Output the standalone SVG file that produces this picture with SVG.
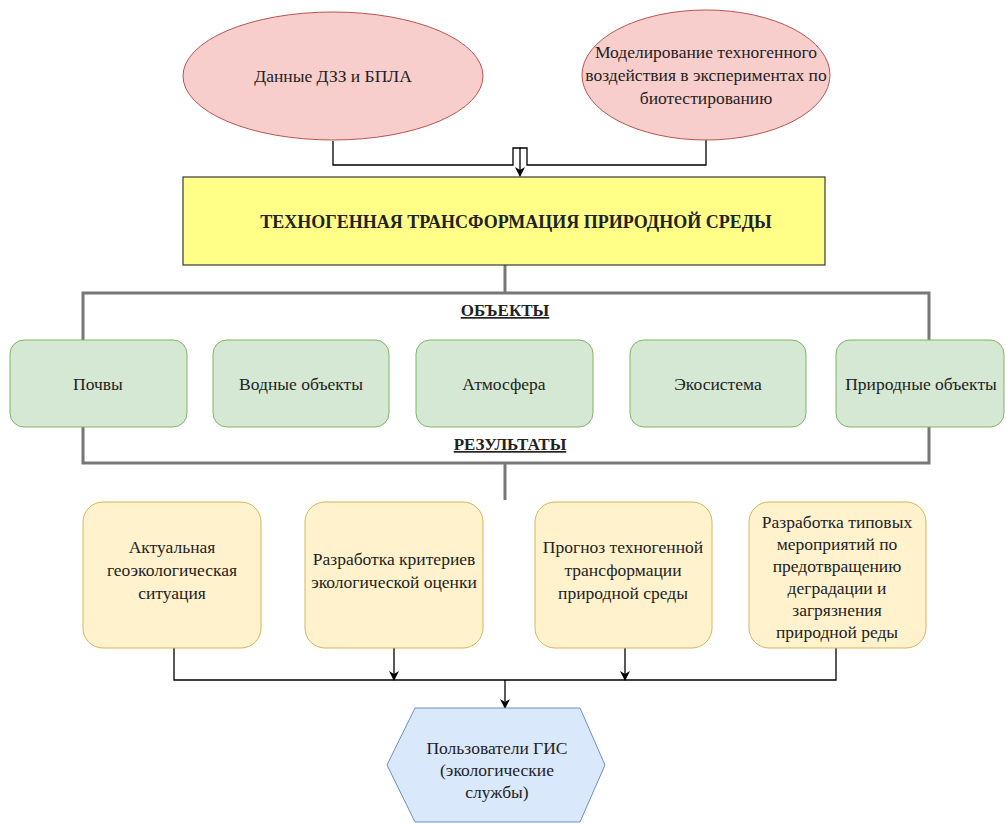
<svg xmlns="http://www.w3.org/2000/svg" width="1006" height="825" viewBox="0 0 1006 825">
  <defs>
    <marker id="arr" viewBox="0 0 10 10" refX="9" refY="5" markerWidth="10" markerHeight="10" markerUnits="userSpaceOnUse" orient="auto">
      <path d="M0,0 L10,5 L0,10 L3,5 Z" fill="#000"/>
    </marker>
  </defs>
  <style>
    .src { fill: #f8cecc; stroke: #b85450; stroke-width: 1; }
    .main { fill: #ffff88; stroke: #36393d; stroke-width: 1.2; }
    .obj { fill: #d5e8d4; stroke: #82b366; stroke-width: 1; }
    .res { fill: #fff2cc; stroke: #d6b656; stroke-width: 1; }
    .user { fill: #dae8fc; stroke: #6c8ebf; stroke-width: 1; }
    .edge { fill: none; stroke: #000; stroke-width: 1.3; }
    .frame { fill: none; stroke: #777; stroke-width: 3; }
    .t { font-family: 'Liberation Serif', 'Times New Roman', serif; fill: #222; text-anchor: middle; font-size: 17.5px; }
    .b { font-weight: bold; }
    .u { text-decoration: underline; }
  </style>
  <rect width="1006" height="825" fill="#fff"/>

  <!-- connectors -->
  <g id="connectors">
    <path class="edge" d="M333,141 V165 H513 V148 H520 V176" marker-end="url(#arr)"/>
    <path class="edge" d="M706,140 V165 H527 V148 H520"/>
    <path class="frame" d="M505,265 V293"/>
    <rect class="frame" x="83" y="293" width="846" height="170"/>
    <path class="frame" d="M505,463 V500"/>
    <path class="edge" d="M174,648 V680 H505"/>
    <path class="edge" d="M836,648 V680 H505"/>
    <path class="edge" d="M394,648 V680" marker-end="url(#arr)"/>
    <path class="edge" d="M625,648 V680" marker-end="url(#arr)"/>
    <path class="edge" d="M505,680 V708" marker-end="url(#arr)"/>
  </g>

  <g id="src-dzz">
    <ellipse class="src" cx="333" cy="76" rx="150" ry="64"/>
    <text class="t" x="333" y="82">Данные ДЗЗ и БПЛА</text>
  </g>
  <g id="src-model">
    <ellipse class="src" cx="706" cy="75" rx="124" ry="65"/>
    <text class="t" x="706" y="58">Моделирование техногенного</text>
    <text class="t" x="706" y="81">воздействия в экспериментах по</text>
    <text class="t" x="706" y="104">биотестированию</text>
  </g>

  <g id="main">
    <rect class="main" x="183" y="177" width="642" height="88"/>
    <text class="t b" x="516" y="228" style="font-size:18px">ТЕХНОГЕННАЯ ТРАНСФОРМАЦИЯ ПРИРОДНОЙ СРЕДЫ</text>
  </g>

  <text class="t b u" x="505" y="316" style="font-size:17px">ОБЪЕКТЫ</text>
  <text class="t b u" x="510" y="450" style="font-size:17px">РЕЗУЛЬТАТЫ</text>

  <g id="obj-soil">
    <rect class="obj" x="10" y="340" width="177" height="87" rx="14"/>
    <text class="t" x="98" y="390">Почвы</text>
  </g>
  <g id="obj-water">
    <rect class="obj" x="213" y="340" width="176" height="87" rx="14"/>
    <text class="t" x="301" y="390">Водные объекты</text>
  </g>
  <g id="obj-air">
    <rect class="obj" x="416" y="340" width="177" height="87" rx="14"/>
    <text class="t" x="504" y="390">Атмосфера</text>
  </g>
  <g id="obj-eco">
    <rect class="obj" x="630" y="340" width="176" height="87" rx="14"/>
    <text class="t" x="718" y="390">Экосистема</text>
  </g>
  <g id="obj-nature">
    <rect class="obj" x="836" y="340" width="168" height="87" rx="14"/>
    <text class="t" x="921" y="390">Природные объекты</text>
  </g>

  <g id="res-actual">
    <rect class="res" x="83" y="502" width="178" height="146" rx="20"/>
    <text class="t" x="172" y="553">Актуальная</text>
    <text class="t" x="172" y="576">геоэкологическая</text>
    <text class="t" x="172" y="599">ситуация</text>
  </g>
  <g id="res-criteria">
    <rect class="res" x="305" y="502" width="178" height="146" rx="20"/>
    <text class="t" x="394" y="565">Разработка критериев</text>
    <text class="t" x="394" y="588">экологической оценки</text>
  </g>
  <g id="res-forecast">
    <rect class="res" x="535" y="502" width="177" height="146" rx="20"/>
    <text class="t" x="623" y="553">Прогноз техногенной</text>
    <text class="t" x="623" y="576">трансформации</text>
    <text class="t" x="623" y="599">природной среды</text>
  </g>
  <g id="res-measures">
    <rect class="res" x="749" y="502" width="177" height="146" rx="20"/>
    <text class="t" x="837" y="528">Разработка типовых</text>
    <text class="t" x="837" y="550">мероприятий по</text>
    <text class="t" x="837" y="572">предотвращению</text>
    <text class="t" x="837" y="594">деградации и</text>
    <text class="t" x="837" y="616">загрязнения</text>
    <text class="t" x="837" y="638">природной реды</text>
  </g>

  <g id="users">
    <polygon class="user" points="415,708 580,708 605,765 580,822 415,822 387,765"/>
    <text class="t" x="497" y="754">Пользователи ГИС</text>
    <text class="t" x="497" y="776">(экологические</text>
    <text class="t" x="497" y="798">службы)</text>
  </g>
</svg>
